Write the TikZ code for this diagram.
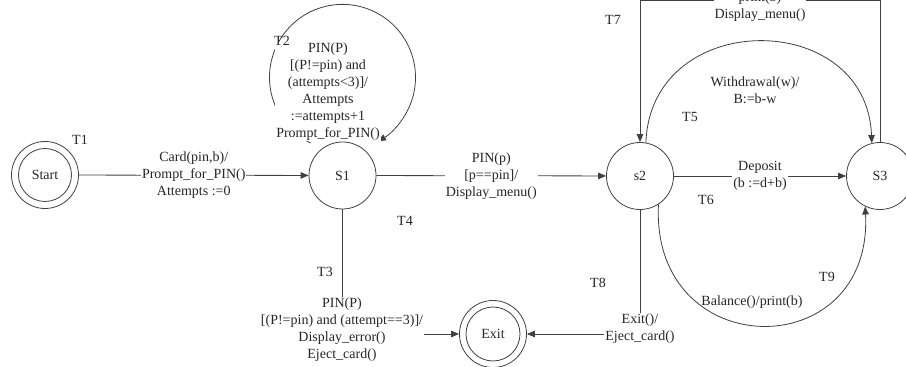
\documentclass[tikz,border=0pt]{standalone}
\usepackage{fontspec}
\setmainfont{Liberation Serif}
\usetikzlibrary{arrows.meta,calc}
\definecolor{lc}{gray}{0.25}
\begin{document}
\begin{tikzpicture}[x=1pt,y=1pt,
  every node/.style={font=\fontsize{14}{17}\selectfont, text=black!85},
  st/.style={circle,draw=lc,line width=0.8pt,minimum size=67pt,inner sep=0pt},
  edge/.style={draw=lc,line width=0.8pt,-{Triangle[length=8pt,width=6.5pt]}},
  lbl/.style={align=center,fill=white,inner sep=1pt},
  plbl/.style={align=center,inner sep=1pt},
  tl/.style={inner sep=0pt}]
\useasboundingbox (0,0) rectangle (906,367);
\clip (0,0) rectangle (906,367);
\fill[white] (0,0) rectangle (906,367);
% states
\node[st] (Start) at (45,192) {Start};
\draw[lc,line width=0.8pt] (Start.center) circle[radius=26.5];
\node[st] (S1) at (342.5,191.5) {S1};
\node[st] (s2) at (640,191) {s2};
\node[st] (S3) at (880,191) {S3};
\node[st] (Exit) at (493,33) {Exit};
\draw[lc,line width=0.8pt] (Exit.center) circle[radius=27];
% T1
\draw[edge] (Start) -- node[lbl]{Card(pin,b)/\\Prompt\_for\_PIN()\\Attempts :=0} (S1);
% T2 self loop
\draw[edge] ($(S1.center)+(-32,32.5)$) arc[start angle=244,end angle=-61,radius=73];
\node[lbl] (l2) at (328,275.5) {PIN(P)\\{[}(P!=pin) and\\(attempts<3)]/\\Attempts\\:=attempts+1\\Prompt\_for\_PIN()};
% T4
\draw[edge] (S1) -- node[lbl]{PIN(p)\\{[}p==pin]/\\Display\_menu()} (s2);
% T3
\draw[edge] (S1.south) |- (Exit.west);
\node[lbl] (l3) at (342,37) {PIN(P)\\{[}(P!=pin) and (attempt==3)]/\\Display\_error()\\Eject\_card()};
% T8
\draw[edge] (s2.south) |- (Exit.east);
\node[lbl] (l8) at (640,38.5) {Exit()/\\Eject\_card()};
% T6
\draw[edge] (s2) -- node[lbl]{Deposit\\(b :=d+b)} (S3);
% T5
\draw[edge] (s2.80) .. controls +(5,135) and +(-5,135) .. (S3.104);
\node[plbl] (l5) at (755,276.5) {Withdrawal(w)/\\B:=b-w};
% T9
\draw[edge] (s2.303) .. controls +(-8,-160) and +(8,-160) .. (S3.244);
\node[plbl] (l9) at (752,65) {Balance()/print(b)};
% T7
\coordinate (top) at (760,366.5);
\draw[edge] (S3.north) |- (top) -| (s2.north);
\node[lbl] (l7) at (760,360.5) {print(b)\\Display\_menu()};
% transition names
\node[tl] (t1) at (80,227) {T1};
\node[tl] (t2) at (282,326) {T2};
\node[tl] (t3) at (325,95) {T3};
\node[tl] (t4) at (405,146) {T4};
\node[tl] (t5) at (690,250) {T5};
\node[tl] (t6) at (706,167) {T6};
\node[tl] (t7) at (613,347) {T7};
\node[tl] (t8) at (598,84) {T8};
\node[tl] (t9) at (827,90) {T9};
\end{tikzpicture}
\end{document}
